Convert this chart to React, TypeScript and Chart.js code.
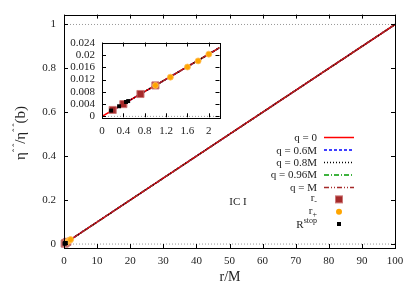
import React, { useEffect, useRef } from 'react';
import { Chart, registerables } from 'chart.js';
Chart.register(...registerables);

// ---- data ----
const lineR = [0, 0.2, 0.4, 0.72, 1, 2, 2.2, 100];
const lineEta = [0, 0.002, 0.004, 0.0073, 0.0101, 0.0203, 0.0224, 1];
const seriesLabels = ['q = 0', 'q = 0.6M', 'q = 0.8M', 'q = 0.96M', 'q = M'];
const seriesStart = [0, 1, 2, 3, 4];
const rMinusR = [0.2, 0.4, 0.72, 1.0];
const rMinusEta = [0.0021, 0.004, 0.0073, 0.0101];
const rPlusR = [1.0, 1.28, 1.6, 1.8, 2.0];
const rPlusEta = [0.0101, 0.0128, 0.0161, 0.0181, 0.0203];
const rStopR = [0.17, 0.32, 0.45, 0.49];
const rStopEta = [0.0019, 0.0033, 0.0047, 0.005];
const mainXTicks = [0, 10, 20, 30, 40, 50, 60, 70, 80, 90, 100];
const mainXTickLabels = ['0', '10', '20', '30', '40', '50', '60', '70', '80', '90', '100'];
const mainYTicks = [0, 0.2, 0.4, 0.6, 0.8, 1];
const mainYTickLabels = ['0', '0.2', '0.4', '0.6', '0.8', '1'];
const insetXTicks = [0, 0.4, 0.8, 1.2, 1.6, 2];
const insetXTickLabels = ['0', '0.4', '0.8', '1.2', '1.6', '2'];
const insetYTicks = [0, 0.004, 0.008, 0.012, 0.016, 0.02, 0.024];
const insetYTickLabels = ['0', '0.004', '0.008', '0.012', '0.016', '0.02', '0.024'];
const refLevelsMain = [0, 1];
const refLevelsInset = [0];

// ---- styles ----
const FONT = '"Liberation Serif", "DejaVu Serif", serif';
const seriesColors = ['#ff0000', '#0000ff', '#000000', '#009a00', '#a52a2a'];
const seriesDash: number[][] = [[], [3, 2], [1, 2], [5, 2, 1, 2], [4, 1, 1, 1, 1, 1]];
const seriesLegendDash: number[][] = [[], [3, 2], [1, 2], [5, 2, 1, 2], [5, 2, 1, 2, 1, 2]];
const seriesOrder = [5, 6, 4, 7, 3];
const BROWN = '#a52a2a';
const ORANGE = '#ffa500';

function buildDatasets(xmin: number, xmax: number, refs: number[]) {
  const ds: any[] = [];
  ds.push({ label: 'rstop', data: rStopR.map((x, i) => ({ x, y: rStopEta[i] })), showLine: false,
    pointStyle: 'rect', pointRadius: 2.8, backgroundColor: '#000', borderColor: '#000', borderWidth: 0, order: 0, clip: false });
  ds.push({ label: 'rplus', data: rPlusR.map((x, i) => ({ x, y: rPlusEta[i] })), showLine: false,
    pointStyle: 'circle', pointRadius: 3, backgroundColor: ORANGE, borderColor: '#ffc060', borderWidth: 0.8, order: 1, clip: false });
  ds.push({ label: 'rminus', data: rMinusR.map((x, i) => ({ x, y: rMinusEta[i] })), showLine: false,
    pointStyle: 'rect', pointRadius: 5, backgroundColor: BROWN, borderColor: '#cc7777', borderWidth: 1, order: 2, clip: false });
  seriesLabels.forEach((lab, i) => {
    const s = seriesStart[i];
    ds.push({ label: lab, data: lineR.slice(s).map((x, k) => ({ x, y: lineEta[s + k] })), showLine: true,
      borderColor: seriesColors[i], borderDash: seriesDash[i], borderWidth: 1.5, pointRadius: 0,
      order: seriesOrder[i], tension: 0 });
  });
  refs.forEach((v) => {
    ds.push({ label: 'ref', data: [{ x: xmin, y: v }, { x: xmax, y: v }], showLine: true,
      borderColor: '#999', borderDash: [1, 2], borderWidth: 1, pointRadius: 0, order: 9 });
  });
  return ds;
}

function frameTicks(chart: any, len: number) {
  const { ctx, chartArea: a, scales } = chart;
  ctx.save();
  ctx.strokeStyle = '#000';
  ctx.lineWidth = 1;
  ctx.setLineDash([]);
  ctx.beginPath();
  for (const t of scales.x.ticks) {
    const px = Math.round(scales.x.getPixelForValue(t.value)) + 0.5;
    ctx.moveTo(px, a.bottom); ctx.lineTo(px, a.bottom - len);
    ctx.moveTo(px, a.top); ctx.lineTo(px, a.top + len);
  }
  for (const t of scales.y.ticks) {
    const py = Math.round(scales.y.getPixelForValue(t.value)) + 0.5;
    ctx.moveTo(a.left, py); ctx.lineTo(a.left + len, py);
    ctx.moveTo(a.right, py); ctx.lineTo(a.right - len, py);
  }
  ctx.stroke();
  ctx.strokeRect(Math.round(a.left) + 0.5, Math.round(a.top) + 0.5, Math.round(a.right - a.left), Math.round(a.bottom - a.top));
  ctx.restore();
}

function drawParts(ctx: CanvasRenderingContext2D, parts: { t: string; size: number; dy: number }[], xRight: number, y: number, align: 'right' | 'center') {
  let total = 0;
  for (const p of parts) { ctx.font = `${p.size}px ${FONT}`; total += ctx.measureText(p.t).width; }
  let x = align === 'right' ? xRight - total : xRight - total / 2;
  ctx.textAlign = 'left';
  for (const p of parts) {
    ctx.font = `${p.size}px ${FONT}`;
    ctx.fillText(p.t, x, y + p.dy);
    x += ctx.measureText(p.t).width;
  }
}

const mainTextPlugin = {
  id: 'mainText',
  afterDraw(chart: any) {
    frameTicks(chart, 4);
    const ctx: CanvasRenderingContext2D = chart.ctx;
    ctx.save();
    ctx.fillStyle = '#222';
    ctx.textBaseline = 'alphabetic';
    // x title
    ctx.font = `14px ${FONT}`;
    ctx.textAlign = 'center';
    ctx.fillText('r/M', 230, 281);
    // IC I
    ctx.font = `11px ${FONT}`;
    ctx.fillText('IC I', 238, 205);
    // y title (rotated)
    ctx.save();
    ctx.translate(25, 133);
    ctx.rotate(-Math.PI / 2);
    drawParts(ctx, [
      { t: 'η', size: 15, dy: 0 }, { t: 'ˆ ˆ', size: 9, dy: -6 }, { t: '/', size: 15, dy: 0 },
      { t: 'η', size: 15, dy: 0 }, { t: 'ˆ ˆ', size: 9, dy: -6 }, { t: '(b)', size: 15, dy: 0 },
    ], 0, 0, 'center');
    ctx.restore();
    // legend
    const rows = [137, 149.5, 162, 174.4, 187, 199.4, 211.8, 224];
    const textRight = 317;
    seriesLabels.forEach((lab, i) => {
      ctx.fillStyle = '#222';
      ctx.font = `11px ${FONT}`;
      ctx.textAlign = 'right';
      ctx.fillText(lab, textRight, rows[i] + 4);
      ctx.beginPath();
      ctx.strokeStyle = seriesColors[i];
      ctx.lineWidth = 1.5;
      ctx.setLineDash(seriesLegendDash[i]);
      ctx.moveTo(324, rows[i] + 0.5);
      ctx.lineTo(354, rows[i] + 0.5);
      ctx.stroke();
    });
    ctx.setLineDash([]);
    ctx.fillStyle = '#222';
    drawParts(ctx, [{ t: 'r', size: 11, dy: 0 }, { t: '-', size: 8, dy: 3 }], textRight, rows[5] + 2, 'right');
    drawParts(ctx, [{ t: 'r', size: 11, dy: 0 }, { t: '+', size: 8, dy: 3 }], textRight, rows[6] + 2, 'right');
    drawParts(ctx, [{ t: 'R', size: 11, dy: 0 }, { t: 'stop', size: 8, dy: -5 }], textRight, rows[7] + 4, 'right');
    // legend markers
    ctx.fillStyle = BROWN;
    ctx.fillRect(335.5, rows[5] - 3.5, 7, 7);
    ctx.strokeStyle = '#cc7777'; ctx.lineWidth = 1;
    ctx.strokeRect(335.5, rows[5] - 3.5, 7, 7);
    ctx.fillStyle = ORANGE;
    ctx.beginPath(); ctx.arc(339, rows[6], 3, 0, Math.PI * 2); ctx.fill();
    ctx.fillStyle = '#000';
    ctx.fillRect(337, rows[7] - 2, 4, 4);
    ctx.restore();
  },
};

const insetPlugin = {
  id: 'insetFrame',
  beforeDatasetsDraw(chart: any) {
    const { ctx, chartArea: a } = chart;
    ctx.save(); ctx.fillStyle = '#fff'; ctx.fillRect(a.left, a.top, a.right - a.left, a.bottom - a.top); ctx.restore();
  },
  afterDraw(chart: any) { frameTicks(chart, 4); },
};

function makeScales(xmin: number, xmax: number, ymin: number, ymax: number, xt: number[], xl: string[], yt: number[], yl: string[], yWidth: number, xHeight: number, ypad: number, xpad: number) {
  return {
    x: {
      type: 'linear', min: xmin, max: xmax,
      grid: { display: false, drawTicks: false }, border: { display: false },
      afterBuildTicks: (s: any) => { s.ticks = xt.map((v) => ({ value: v })); },
      afterFit: (s: any) => { s.height = xHeight; },
      ticks: { padding: xpad, color: '#222', font: { family: FONT, size: 11 }, maxRotation: 0, autoSkip: false,
        callback: (_v: any, i: number) => xl[i] },
    },
    y: {
      type: 'linear', min: ymin, max: ymax,
      grid: { display: false, drawTicks: false }, border: { display: false },
      afterBuildTicks: (s: any) => { s.ticks = yt.map((v) => ({ value: v })); },
      afterFit: (s: any) => { s.width = yWidth; },
      ticks: { padding: ypad, color: '#222', font: { family: FONT, size: 11 }, autoSkip: false,
        callback: (_v: any, i: number) => yl[i] },
    },
  };
}

export default function App() {
  const mainRef = useRef<HTMLCanvasElement>(null);
  const insetRef = useRef<HTMLCanvasElement>(null);
  useEffect(() => {
    const main = new Chart(mainRef.current!, {
      type: 'scatter',
      data: { datasets: buildDatasets(0, 100, refLevelsMain) },
      options: {
        animation: false, responsive: false, devicePixelRatio: 1,
        layout: { padding: { left: 0, right: 20, top: 14, bottom: 0 } },
        plugins: { legend: { display: false }, tooltip: { enabled: false } },
        scales: makeScales(0, 100, -0.018, 1.045, mainXTicks, mainXTickLabels, mainYTicks, mainYTickLabels, 64, 37, 8, 7) as any,
      },
      plugins: [mainTextPlugin],
    } as any);
    const inset = new Chart(insetRef.current!, {
      type: 'scatter',
      data: { datasets: buildDatasets(0, 2.2, refLevelsInset) },
      options: {
        animation: false, responsive: false, devicePixelRatio: 1,
        layout: { padding: { left: 0, right: 195.5, top: 42.5, bottom: 0 } },
        plugins: { legend: { display: false }, tooltip: { enabled: false } },
        scales: makeScales(0, 2.2, -0.0003, 0.0241, insetXTicks, insetXTickLabels, insetYTicks, insetYTickLabels, 102, 167.7, 7, 7) as any,
      },
      plugins: [insetPlugin],
    } as any);
    return () => { main.destroy(); inset.destroy(); };
  }, []);
  return (
    <div style={{ position: 'absolute', left: 0, top: 0, width: 415, height: 285, background: '#fff' }}>
      <canvas ref={mainRef} width={415} height={285} style={{ position: 'absolute', left: 0, top: 0, width: 415, height: 285 }} />
      <canvas ref={insetRef} width={415} height={285} style={{ position: 'absolute', left: 0, top: 0, width: 415, height: 285, pointerEvents: 'none' }} />
    </div>
  );
}
